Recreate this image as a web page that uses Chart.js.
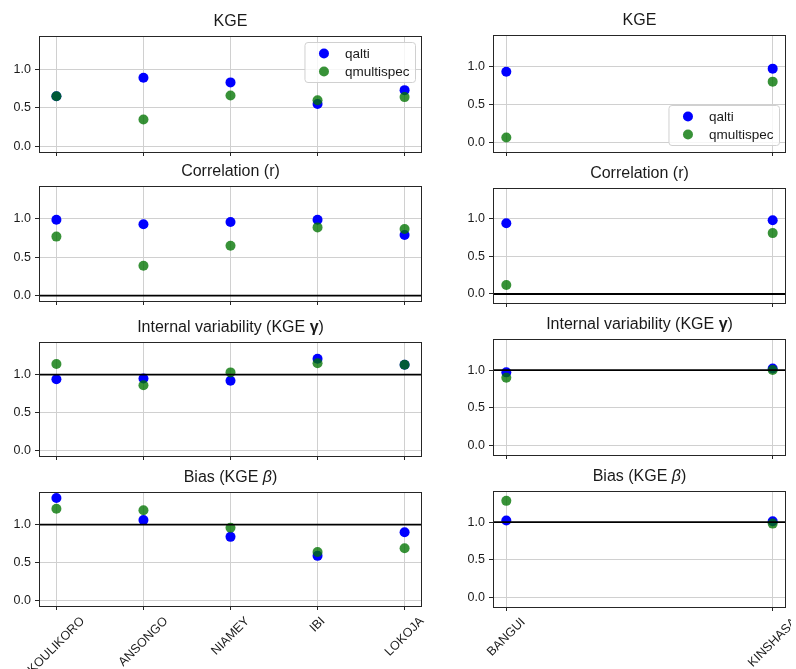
<!DOCTYPE html>
<html>
<head>
<meta charset="utf-8">
<script src="https://cdn.jsdelivr.net/npm/chart.js@4.4.0/dist/chart.umd.min.js"></script>
<style>
  html, body { margin: 0; padding: 0; background: #fff; overflow: hidden; }
  #fig { position: relative; width: 796px; height: 669px; }
  #fig canvas { position: absolute; }
</style>
</head>
<body>
<div id="fig"></div>
<script>
// gauging stations, one group per column
var westStations = ['KOULIKORO', 'ANSONGO', 'NIAMEY', 'IBI', 'LOKOJA'];
var congoStations = ['BANGUI', 'KINSHASA'];

var metrics = ['KGE', 'Correlation (r)', 'Internal variability (KGE γ)', 'Bias (KGE β)'];
var refLines = [null, 0, 1, 1];
var yTicks = [0, 0.5, 1.0];
var seriesNames = ['qalti', 'qmultispec'];

// scores per station: KGE, r, gamma, beta
var westKgeAlti = [0.65, 0.89, 0.83, 0.55, 0.73];
var westKgeMulti = [0.65, 0.35, 0.66, 0.60, 0.64];
var westCorrAlti = [0.99, 0.93, 0.96, 0.99, 0.79];
var westCorrMulti = [0.77, 0.39, 0.65, 0.89, 0.87];
var westGammaAlti = [0.94, 0.95, 0.92, 1.21, 1.13];
var westGammaMulti = [1.14, 0.86, 1.03, 1.15, 1.13];
var westBetaAlti = [1.35, 1.06, 0.84, 0.59, 0.90];
var westBetaMulti = [1.21, 1.19, 0.96, 0.64, 0.69];

var congoKgeAlti = [0.93, 0.97];
var congoKgeMulti = [0.07, 0.80];
var congoCorrAlti = [0.94, 0.98];
var congoCorrMulti = [0.12, 0.81];
var congoGammaAlti = [0.97, 1.02];
var congoGammaMulti = [0.90, 1.00];
var congoBetaAlti = [1.02, 1.01];
var congoBetaMulti = [1.28, 0.98];

var columns = [
  {
    stations: westStations,
    alti: [westKgeAlti, westCorrAlti, westGammaAlti, westBetaAlti],
    multi: [westKgeMulti, westCorrMulti, westGammaMulti, westBetaMulti],
    left: 39, width: 384,
    tops: [36, 186, 342, 492], bottoms: [152, 301, 456, 606],
    yMin: -0.07, yMax: 1.43, legendAt: 'top'
  },
  {
    stations: congoStations,
    alti: [congoKgeAlti, congoCorrAlti, congoGammaAlti, congoBetaAlti],
    multi: [congoKgeMulti, congoCorrMulti, congoGammaMulti, congoBetaMulti],
    left: 493, width: 294,
    tops: [35, 188, 339, 491], bottoms: [152, 303, 455, 607],
    yMin: -0.12, yMax: 1.41, legendAt: 'bottom'
  }
];

var FONT = 'Liberation Sans';
var TEXT = '#1a1a1a';
var ALTI_COLOR = '#0000ff';
var MULTI_COLOR = 'rgba(0,115,0,0.78)';
var YAXIS_W = 40;
var TITLE_SPACE = 34;

// title with a bold gamma / italic beta, like mathtext
function drawTitle(ctx, text, cx, baseline) {
  var parts = [];
  for (var ch of text) {
    var f = '16px "' + FONT + '"';
    if (ch === 'γ') f = 'bold ' + f;
    if (ch === 'β') f = 'italic ' + f;
    var last = parts[parts.length - 1];
    if (last && last.font === f) last.text += ch;
    else parts.push({ text: ch, font: f });
  }
  var total = 0;
  parts.forEach(function (p) {
    ctx.font = p.font;
    p.w = ctx.measureText(p.text).width;
    total += p.w;
  });
  var x = cx - total / 2;
  ctx.fillStyle = TEXT;
  ctx.textAlign = 'left';
  ctx.textBaseline = 'alphabetic';
  parts.forEach(function (p) {
    ctx.font = p.font;
    ctx.fillText(p.text, x, baseline);
    x += p.w;
  });
}

var panelDecor = {
  id: 'panelDecor',
  afterDatasetsDraw: function (chart, args, opts) {
    if (opts.refLine === null) return;
    var ctx = chart.ctx, area = chart.chartArea;
    var y = chart.scales.y.getPixelForValue(opts.refLine);
    ctx.save();
    ctx.strokeStyle = '#000';
    ctx.lineWidth = 1.8;
    ctx.beginPath();
    ctx.moveTo(area.left, y);
    ctx.lineTo(area.right, y);
    ctx.stroke();
    ctx.restore();
  },
  afterDraw: function (chart, args, opts) {
    var ctx = chart.ctx, area = chart.chartArea;
    ctx.save();

    // axes frame
    ctx.strokeStyle = '#262626';
    ctx.lineWidth = 1;
    ctx.strokeRect(Math.round(area.left) + 0.5, Math.round(area.top) + 0.5,
      Math.round(area.right - area.left) - 1, Math.round(area.bottom - area.top));

    drawTitle(ctx, opts.title, (area.left + area.right) / 2, area.top - 10.5);

    // rotated station names under the bottom row
    if (opts.xLabels) {
      var xs = chart.scales.x;
      ctx.font = '12.5px "' + FONT + '"';
      ctx.fillStyle = TEXT;
      ctx.textAlign = 'center';
      ctx.textBaseline = 'middle';
      opts.xLabels.forEach(function (name, i) {
        var w = ctx.measureText(name).width;
        var h = 12;
        var cy = area.bottom + 9 + (w + h) * Math.SQRT1_2 / 2;
        ctx.save();
        ctx.translate(xs.getPixelForValue(i), cy);
        ctx.rotate(-Math.PI / 4);
        ctx.fillText(name, 0, 0);
        ctx.restore();
      });
    }

    // legend box
    if (opts.legendAt) {
      ctx.font = '13.5px "' + FONT + '"';
      var sets = chart.data.datasets;
      var tw = 0;
      sets.forEach(function (d) { tw = Math.max(tw, ctx.measureText(d.label).width); });
      var bw = 40 + tw + 6, bh = 40;
      var bx = area.right - 6.5 - bw;
      var by = opts.legendAt === 'top' ? area.top + 6.5 : area.bottom - 6.5 - bh;
      ctx.beginPath();
      ctx.roundRect(bx, by, bw, bh, 3);
      ctx.fillStyle = 'rgba(255,255,255,0.8)';
      ctx.fill();
      ctx.strokeStyle = '#d0d0d0';
      ctx.stroke();
      ctx.textAlign = 'left';
      ctx.textBaseline = 'middle';
      sets.forEach(function (d, k) {
        var ry = by + 11 + k * 18;
        ctx.beginPath();
        ctx.arc(bx + 19, ry, 5, 0, Math.PI * 2);
        ctx.fillStyle = d.backgroundColor;
        ctx.fill();
        ctx.fillStyle = TEXT;
        ctx.fillText(d.label, bx + 40, ry + 1);
      });
    }
    ctx.restore();
  }
};

var fig = document.getElementById('fig');

columns.forEach(function (col) {
  var n = col.stations.length;
  var margin = 0.05 * (n - 1);
  metrics.forEach(function (metric, r) {
    var last = r === metrics.length - 1;
    var plotH = col.bottoms[r] - col.tops[r];
    var bottomPad = last ? 64 : 0;
    var canvas = document.createElement('canvas');
    canvas.width = YAXIS_W + col.width + 4;
    canvas.height = TITLE_SPACE + plotH + 6 + bottomPad;
    canvas.style.left = (col.left - YAXIS_W) + 'px';
    canvas.style.top = (col.tops[r] - TITLE_SPACE) + 'px';
    canvas.style.width = canvas.width + 'px';
    canvas.style.height = canvas.height + 'px';
    fig.appendChild(canvas);

    var toPoints = function (vals) { return vals.map(function (v, i) { return { x: i, y: v }; }); };

    new Chart(canvas, {
      type: 'scatter',
      data: {
        datasets: [{
          label: seriesNames[0],
          data: toPoints(col.alti[r]),
          backgroundColor: ALTI_COLOR,
          pointRadius: 5,
          borderWidth: 0,
          order: 1
        }, {
          label: seriesNames[1],
          data: toPoints(col.multi[r]),
          backgroundColor: MULTI_COLOR,
          pointRadius: 5,
          borderWidth: 0,
          order: 0
        }]
      },
      options: {
        responsive: false,
        animation: false,
        devicePixelRatio: 1,
        layout: { padding: { top: TITLE_SPACE, left: 0, right: 4, bottom: bottomPad } },
        plugins: {
          legend: { display: false },
          tooltip: { enabled: false },
          panelDecor: {
            title: metric,
            refLine: refLines[r],
            xLabels: last ? col.stations : null,
            legendAt: r === 0 ? col.legendAt : null
          }
        },
        scales: {
          x: {
            type: 'linear',
            min: -margin,
            max: n - 1 + margin,
            afterBuildTicks: function (scale) {
              scale.ticks = col.stations.map(function (s, i) { return { value: i }; });
            },
            afterFit: function (scale) {
              scale.height = 6;
              scale.paddingLeft = 0;
              scale.paddingRight = 0;
            },
            ticks: { display: false },
            grid: { color: '#d0d0d0', lineWidth: 1, tickLength: 4, tickColor: '#262626' },
            border: { display: false }
          },
          y: {
            min: col.yMin,
            max: col.yMax,
            afterBuildTicks: function (scale) {
              scale.ticks = yTicks.map(function (v) { return { value: v }; });
            },
            afterFit: function (scale) {
              scale.width = YAXIS_W;
              scale.paddingTop = 0;
              scale.paddingBottom = 0;
            },
            ticks: {
              padding: 4,
              color: TEXT,
              font: { family: FONT, size: 12.5 },
              callback: function (v) { return v.toFixed(1); }
            },
            grid: { color: '#d0d0d0', lineWidth: 1, tickLength: 4, tickColor: '#262626' },
            border: { display: false }
          }
        }
      },
      plugins: [panelDecor]
    });
  });
});
</script>
</body>
</html>
